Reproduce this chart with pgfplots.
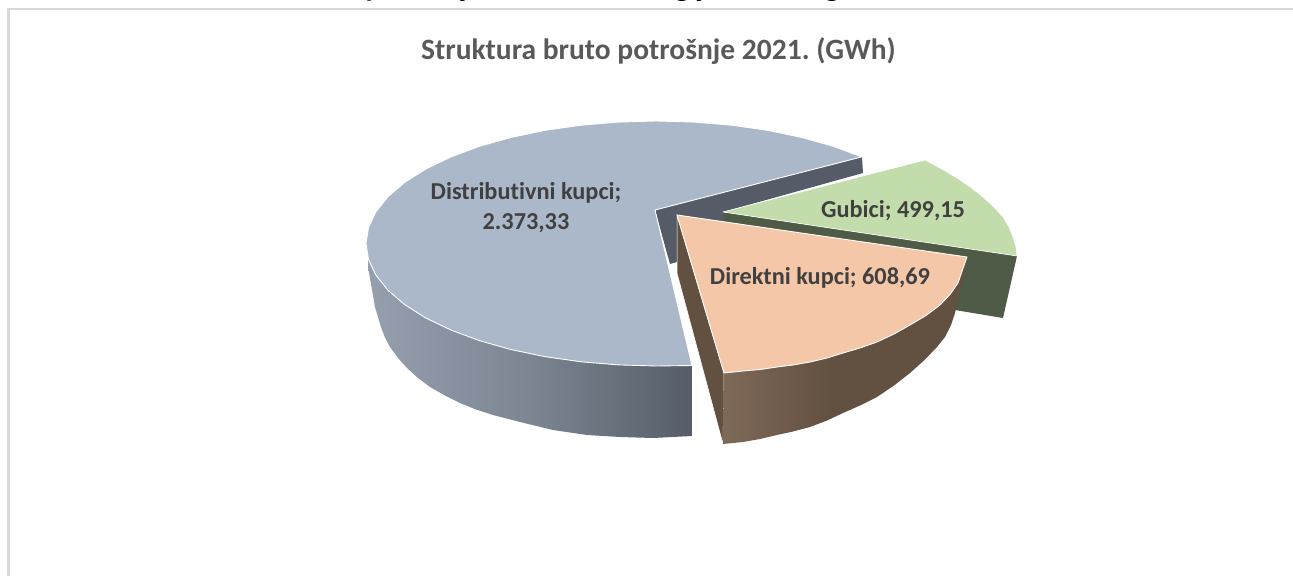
\documentclass[border=0pt]{standalone}
\usepackage{fontspec}
\setmainfont[Ligatures=NoCommon]{Carlito}
\usepackage{pgfplots}
\pgfplotsset{compat=1.18}
\frenchspacing
\definecolor{blueTop}{HTML}{ABB8C9}
\definecolor{slate}{HTML}{555C68}
\definecolor{peachTop}{HTML}{F4C7A9}
\definecolor{brownA}{HTML}{7F6A59}
\definecolor{brownB}{HTML}{625041}
\definecolor{greenTop}{HTML}{C3DCAC}
\definecolor{greenWall}{HTML}{4F5B46}
\definecolor{blueA}{HTML}{969FAE}
\definecolor{blueB}{HTML}{7C8592}
\definecolor{blueC}{HTML}{565D68}
\definecolor{labelc}{HTML}{404040}
\definecolor{titlec}{HTML}{595959}
\definecolor{framec}{HTML}{D9D9D9}
\pgfdeclarehorizontalshading{bluewall}{100bp}{color(0bp)=(blueA); color(25bp)=(blueA); color(50bp)=(blueB); color(75bp)=(blueC); color(100bp)=(blueC)}
\pgfdeclarehorizontalshading{brownwall}{100bp}{color(0bp)=(brownA); color(25bp)=(brownA); color(47bp)=(brownB); color(75bp)=(brownB); color(100bp)=(brownB)}
\begin{document}
\begin{tikzpicture}
\useasboundingbox (0,0) rectangle (1293bp,576bp);
\begin{axis}[
  at={(0,0)}, anchor=south west,
  width=1293bp, height=576bp, scale only axis,
  xmin=0, xmax=1293, ymin=0, ymax=576, y dir=reverse,
  hide axis, clip=true,
]
% frame
\addplot[framec, line width=2.6bp] coordinates {(8.5,580) (8.5,9.2) (1300,9.2)};
% blue outer wall
\addplot[shading=bluewall, draw=none] coordinates {
 (692,365) (692,436) (653,438) (620,437) (587,435) (553,430) (520,422) (493,415) (476,409.5) (460,403) (445,395.5) (430,387) (418,378)
 (407,368) (398,358) (390,347) (385,337.5) (381,327) (375,307) (368,267) (368.5,259.5) (375.9,275.2) (388.1,290.4) (404.9,304.75) (426,318.1)
 (451.1,330.1) (479.6,340.7) (511.2,349.6) (545.3,356.7) (581.2,361.8) (618.5,364.9) (656.4,366)} -- cycle;
% slate inner wall of the blue slice
\addplot[fill=slate, draw=none] coordinates {
 (655,210) (862,157) (863,173) (723,212) (730,235) (677,262) (670,264)} -- cycle;
% blue top
\addplot[fill=blueTop, draw=white, line width=0.9bp, line join=round] coordinates {
 (655,210) (861.7,156.9) (833.2,146.3) (801.6,137.4) (767.5,130.3) (731.6,125.2) (694.3,122.1) (656.4,121)
 (618.5,122.1) (581.2,125.2) (545.3,130.3) (511.2,137.4) (479.6,146.3) (451.1,156.9) (426,168.9) (404.9,182.25)
 (388.1,196.6) (375.9,211.8) (368.5,227.5) (366,243.5) (368.5,259.5) (375.9,275.2) (388.1,290.4) (404.9,304.75)
 (426,318.1) (451.1,330.1) (479.6,340.7) (511.2,349.6) (545.3,356.7) (581.2,361.8) (618.5,364.9) (656.4,366) (692,365.5)} -- cycle;
% green wall
\addplot[fill=greenWall, draw=none] coordinates {
 (723,212) (1017,256) (1003,318) (955,310) (930,300) (723,225)} -- cycle;
% green top
\addplot[fill=greenTop, draw=white, line width=0.6bp, line join=round] coordinates {
 (723,212) (925,160) (941,168.5) (957,178) (971,187.5) (983,197) (994,207) (1003,217) (1009,227) (1013,237) (1016,247) (1017,256)} -- cycle;
% brown inner wall
\addplot[fill=brownB, draw=white, line width=0.5bp] coordinates {
 (677,215) (724,373) (723,444) (677,273)} -- cycle;
% brown outer wall
\addplot[shading=brownwall, draw=none] coordinates {
 (724,373) (723,444) (743,442) (760,439) (777,435) (793,431.5) (810,427) (827,420.5) (843,413) (860,405.5) (877,397) (894,385.5) (910,373) (924,360.5) (937,347) (945,337) (951,325) (955,313) (958,300) (962,283) (965,270) (967,258)
 (958,283) (940,305) (910,325) (877,342) (843,353) (810,362) (777,367) (743,371)} -- cycle;
% peach top
\addplot[fill=peachTop, draw=white, line width=0.9bp, line join=round] coordinates {
 (677,215) (967,257) (958,283) (950,294.5) (940,305) (926,315.5) (910,325) (894,334) (877,342) (860,348) (843,353) (827,358) (810,362) (793,365) (777,367) (760,369.5) (743,371) (724,373)} -- cycle;
% labels
\node[font=\bfseries\itshape\fontsize{30}{30}\selectfont, text=black, anchor=base west] at (axis cs:165,-3) {Struktura bruto potrošnje električne energije u 2021. godini};
\node[font=\bfseries\fontsize{29.6}{34}\selectfont, text=titlec] at (axis cs:658.5,51) {Struktura bruto potrošnje 2021. (GWh)};
\node[font=\bfseries\fontsize{24.4}{29}\selectfont, text=labelc] at (axis cs:526,193) {Distributivni kupci;};
\node[font=\bfseries\fontsize{24.4}{29}\selectfont, text=labelc] at (axis cs:526,223) {2.373,33};
\node[font=\bfseries\fontsize{24.4}{29}\selectfont, text=labelc] at (axis cs:893,210.5) {Gubici; 499,15};
\node[font=\bfseries\fontsize{24.4}{29}\selectfont, text=labelc] at (axis cs:820,278) {Direktni kupci; 608,69};
\end{axis}
\end{tikzpicture}
\end{document}
